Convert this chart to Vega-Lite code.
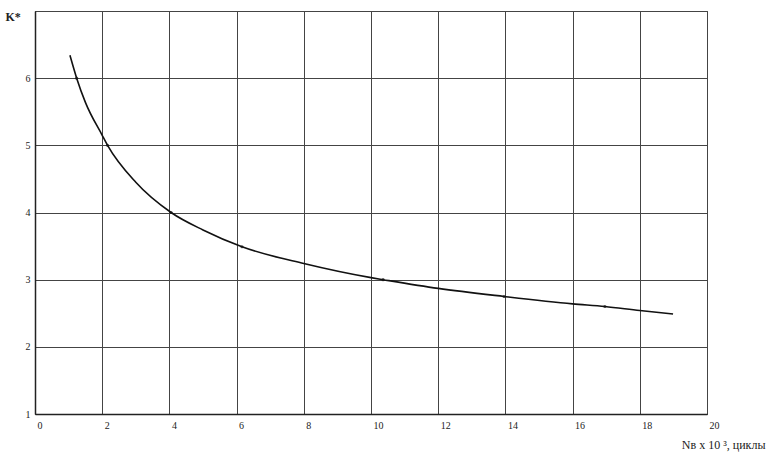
{
  "$schema": "https://vega.github.io/schema/vega-lite/v6.json",
  "autosize": {"type": "none"},
  "width": 672,
  "height": 403,
  "padding": {"left": 35, "top": 11, "right": 73, "bottom": 42},
  "background": "white",
  "config": {
    "view": {"stroke": "#333", "strokeWidth": 1},
    "font": "Liberation Serif"
  },
  "datasets": {
    "curve": [
      {"x": 1.04, "y": 6.34},
      {"x": 1.24, "y": 6.0},
      {"x": 1.5, "y": 5.64},
      {"x": 2.0, "y": 5.15},
      {"x": 2.16, "y": 5.0},
      {"x": 3.0, "y": 4.45},
      {"x": 4.05, "y": 4.0},
      {"x": 5.0, "y": 3.74},
      {"x": 6.16, "y": 3.49},
      {"x": 8.0, "y": 3.24},
      {"x": 10.0, "y": 3.03},
      {"x": 10.36, "y": 3.0},
      {"x": 12.0, "y": 2.87},
      {"x": 13.96, "y": 2.75},
      {"x": 16.0, "y": 2.64},
      {"x": 16.96, "y": 2.6},
      {"x": 18.0, "y": 2.54},
      {"x": 18.99, "y": 2.49}
    ],
    "marks": [
      {"x": 1.24, "y": 6.0},
      {"x": 2.16, "y": 5.0},
      {"x": 4.05, "y": 4.0},
      {"x": 6.16, "y": 3.49},
      {"x": 10.36, "y": 3.0},
      {"x": 13.96, "y": 2.75},
      {"x": 16.96, "y": 2.6}
    ]
  },
  "encoding": {
    "x": {
      "field": "x", "type": "quantitative",
      "scale": {"domain": [0, 20], "nice": false, "zero": false},
      "axis": {
        "values": [0, 2, 4, 6, 8, 10, 12, 14, 16, 18, 20],
        "grid": true, "gridColor": "#444", "gridWidth": 1, "gridOpacity": 1,
        "domainColor": "#222", "domainWidth": 1.5,
        "ticks": false, "labelPadding": 6, "labelFontSize": 10, "labelColor": "#222",
        "labelFont": "Liberation Serif", "labelAlign": "left", "labelOffset": 2,
        "title": "Nв x 10 ³, циклы",
        "titleFont": "Liberation Serif", "titleFontSize": 12, "titleFontWeight": "normal",
        "titleColor": "#222", "titleAlign": "right", "titleAnchor": "end",
        "titleX": 730, "titleY": 30, "titleBaseline": "middle"
      }
    },
    "y": {
      "field": "y", "type": "quantitative",
      "scale": {"domain": [1, 7], "nice": false, "zero": false},
      "axis": {
        "values": [1, 2, 3, 4, 5, 6, 7],
        "labelExpr": "datum.value == 7 ? '' : datum.label",
        "grid": true, "gridColor": "#444", "gridWidth": 1, "gridOpacity": 1,
        "domainColor": "#222", "domainWidth": 1.5,
        "ticks": false, "labelPadding": 5, "labelFontSize": 10, "labelColor": "#222",
        "labelFont": "Liberation Serif",
        "title": "K*", "titleAngle": 0,
        "titleFont": "Liberation Serif", "titleFontSize": 12, "titleFontWeight": "bold",
        "titleColor": "#222", "titleAlign": "left",
        "titleX": -30, "titleY": 5, "titleBaseline": "middle"
      }
    }
  },
  "layer": [
    {
      "data": {"name": "curve"},
      "mark": {"type": "line", "interpolate": "monotone", "color": "#111", "strokeWidth": 1.6}
    },
    {
      "data": {"name": "marks"},
      "mark": {"type": "point", "filled": true, "color": "#111", "size": 10}
    }
  ]
}
